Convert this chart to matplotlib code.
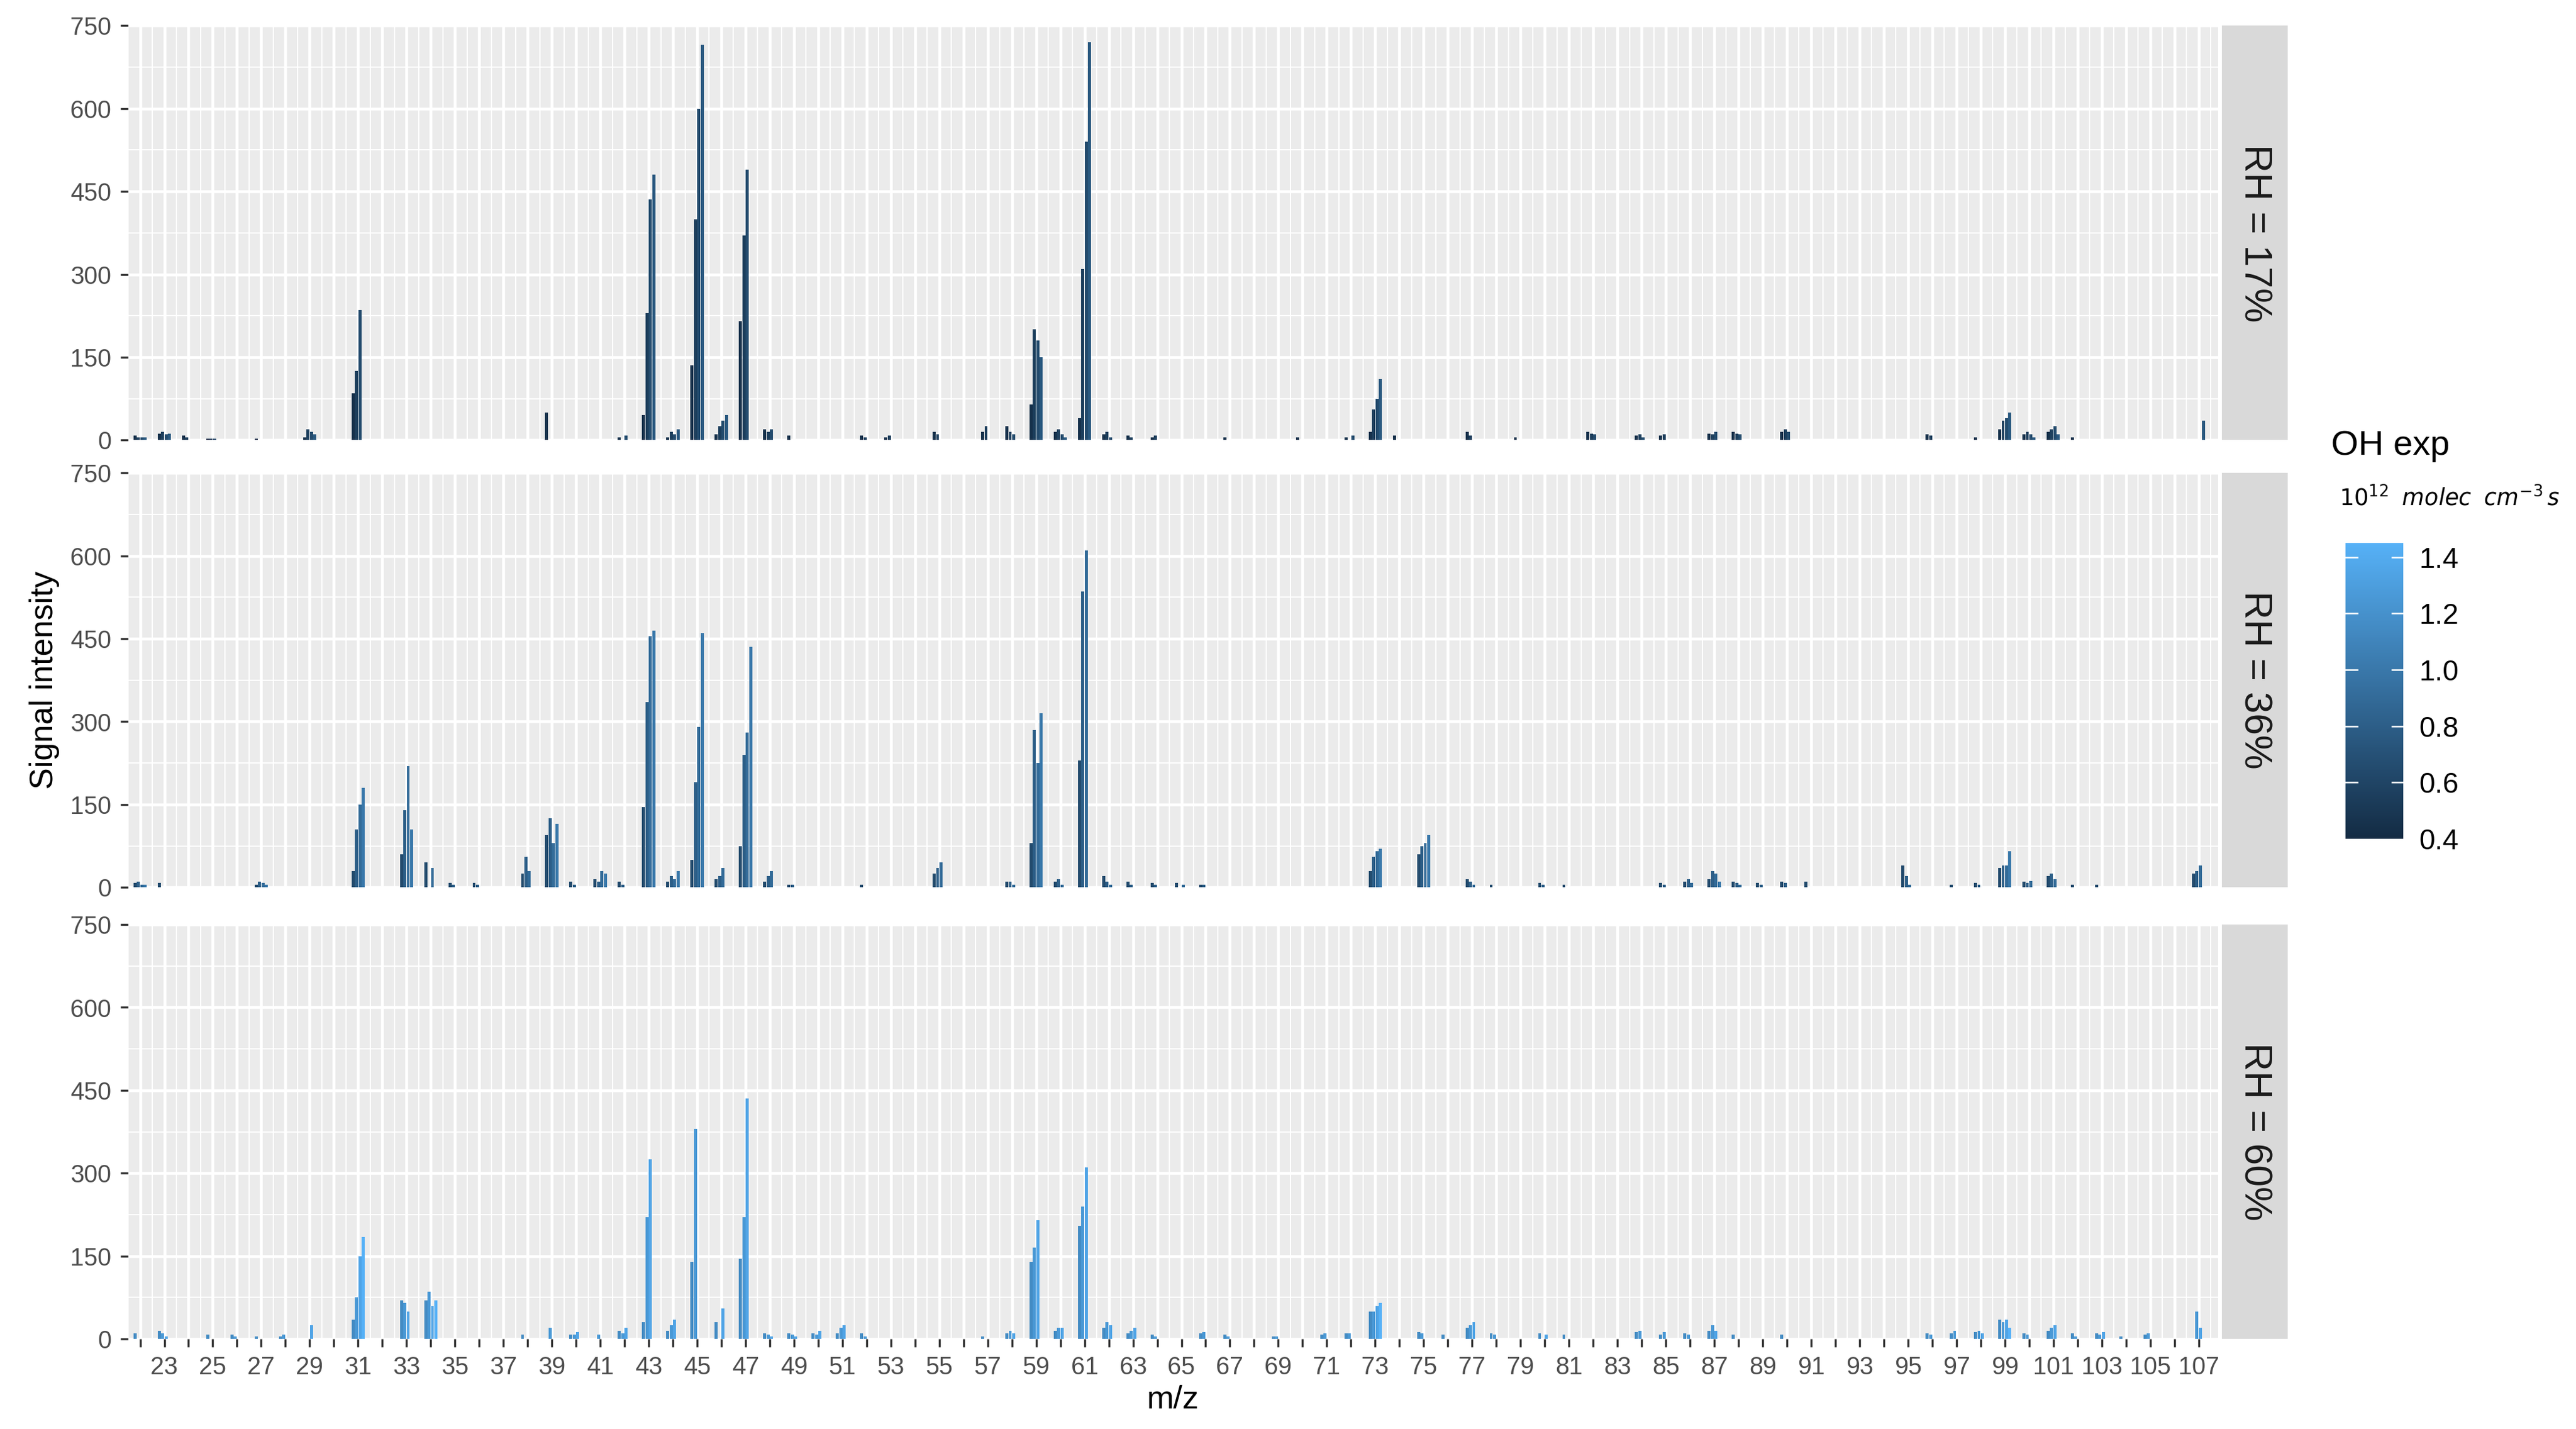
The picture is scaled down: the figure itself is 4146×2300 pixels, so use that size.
import numpy as np
import matplotlib.pyplot as plt
import matplotlib as mpl
from matplotlib.colors import LinearSegmentedColormap, Normalize

plt.rcParams['font.family'] = ['Liberation Sans', 'DejaVu Sans']

mz_range = list(range(22, 108))
panels = ["RH = 17%", "RH = 36%", "RH = 60%"]
# OH exposure of the 4 dodged bars per panel (1e12 molec cm-3 s)
oh_exp = [[0.45, 0.55, 0.65, 0.75],
          [0.65, 0.80, 0.90, 1.00],
          [1.15, 1.25, 1.35, 1.45]]

# signal per m/z, four exposures each
rh17 = {22: [8, 5, 5, 5], 23: [12, 15, 10, 12], 24: [8, 5, 0, 0], 25: [3, 3, 3, 0],
        27: [3, 0, 0, 0], 29: [5, 20, 15, 10], 31: [85, 125, 235, 0], 39: [50, 0, 0, 0],
        42: [5, 0, 8, 0], 43: [45, 230, 435, 480], 44: [5, 15, 10, 20],
        45: [135, 400, 600, 715], 46: [10, 25, 35, 45], 47: [215, 370, 490, 0],
        48: [20, 15, 20, 0], 49: [8, 0, 0, 0], 52: [8, 5, 0, 0], 53: [5, 8, 0, 0],
        55: [15, 10, 0, 0], 57: [15, 25, 0, 0], 58: [25, 15, 10, 0],
        59: [65, 200, 180, 150], 60: [15, 20, 10, 5], 61: [40, 310, 540, 720],
        62: [10, 15, 5, 0], 63: [8, 5, 0, 0], 64: [5, 8, 0, 0], 67: [5, 0, 0, 0],
        70: [5, 0, 0, 0], 72: [5, 0, 8, 0], 73: [15, 55, 75, 110], 74: [8, 0, 0, 0],
        77: [15, 8, 0, 0], 79: [5, 0, 0, 0], 82: [15, 12, 10, 0], 84: [8, 10, 5, 0],
        85: [8, 10, 0, 0], 87: [12, 10, 15, 0], 88: [15, 12, 10, 0], 90: [15, 20, 15, 0],
        96: [10, 8, 0, 0], 98: [5, 0, 0, 0], 99: [20, 35, 40, 50], 100: [10, 15, 10, 5],
        101: [15, 20, 25, 10], 102: [5, 0, 0, 0], 107: [0, 0, 0, 35]}
rh36 = {22: [8, 10, 5, 5], 23: [8, 0, 0, 0], 27: [5, 10, 8, 5], 31: [30, 105, 150, 180],
        33: [60, 140, 220, 105], 34: [45, 0, 35, 0], 35: [8, 5, 0, 0], 36: [8, 5, 0, 0],
        38: [25, 55, 30, 0], 39: [95, 125, 80, 115], 40: [10, 5, 0, 0],
        41: [15, 10, 30, 25], 42: [10, 5, 0, 0], 43: [145, 335, 455, 465],
        44: [10, 20, 15, 30], 45: [50, 190, 290, 460], 46: [15, 20, 35, 0],
        47: [75, 240, 280, 435], 48: [10, 20, 30, 0], 49: [5, 5, 0, 0], 52: [5, 0, 0, 0],
        55: [25, 35, 45, 0], 58: [10, 10, 5, 0], 59: [80, 285, 225, 315],
        60: [10, 15, 5, 0], 61: [230, 535, 610, 0], 62: [20, 10, 5, 0], 63: [10, 5, 0, 0],
        64: [8, 5, 0, 0], 65: [8, 0, 5, 0], 66: [5, 5, 0, 0], 73: [30, 55, 65, 70],
        75: [60, 75, 80, 95], 77: [15, 10, 5, 0], 78: [5, 0, 0, 0], 80: [8, 5, 0, 0],
        81: [5, 0, 0, 0], 85: [8, 5, 0, 0], 86: [10, 15, 8, 0], 87: [15, 30, 25, 10],
        88: [10, 8, 5, 0], 89: [8, 5, 0, 0], 90: [10, 8, 0, 0], 91: [10, 0, 0, 0],
        95: [40, 20, 5, 0], 97: [5, 0, 0, 0], 98: [8, 5, 0, 0], 99: [35, 40, 40, 65],
        100: [10, 8, 12, 0], 101: [20, 25, 15, 0], 102: [5, 0, 0, 0], 103: [5, 0, 0, 0],
        107: [25, 30, 40, 0]}
rh60 = {22: [10, 0, 0, 0], 23: [15, 10, 5, 0], 25: [8, 0, 0, 0], 26: [8, 5, 0, 0],
        27: [5, 0, 0, 0], 28: [5, 8, 0, 0], 29: [0, 0, 25, 0], 31: [35, 75, 150, 185],
        33: [70, 65, 50, 0], 34: [70, 85, 60, 70], 38: [8, 0, 0, 0], 39: [0, 20, 0, 0],
        40: [8, 8, 12, 0], 41: [0, 8, 0, 0], 42: [15, 10, 20, 0], 43: [30, 220, 325, 0],
        44: [15, 25, 35, 0], 45: [140, 380, 0, 0], 46: [30, 0, 55, 0],
        47: [145, 220, 435, 0], 48: [10, 8, 5, 0], 49: [10, 8, 5, 0], 50: [10, 8, 15, 0],
        51: [10, 20, 25, 0], 52: [10, 5, 0, 0], 57: [5, 0, 0, 0], 58: [10, 15, 10, 0],
        59: [140, 165, 215, 0], 60: [15, 20, 20, 0], 61: [205, 240, 310, 0],
        62: [20, 30, 25, 0], 63: [10, 15, 20, 0], 64: [8, 5, 0, 0], 66: [10, 12, 0, 0],
        67: [8, 5, 0, 0], 69: [5, 5, 0, 0], 71: [8, 10, 0, 0], 72: [10, 10, 0, 0],
        73: [50, 50, 60, 65], 75: [12, 10, 0, 0], 76: [8, 0, 0, 0], 77: [20, 25, 30, 0],
        78: [10, 8, 0, 0], 80: [10, 0, 8, 0], 81: [8, 0, 0, 0], 84: [12, 15, 0, 0],
        85: [8, 12, 0, 0], 86: [10, 8, 0, 0], 87: [15, 25, 15, 0], 88: [8, 0, 0, 0],
        90: [8, 0, 0, 0], 96: [10, 8, 0, 0], 97: [10, 15, 0, 0], 98: [12, 15, 10, 0],
        99: [35, 30, 35, 20], 100: [10, 8, 0, 0], 101: [15, 20, 25, 0],
        102: [10, 5, 0, 0], 103: [10, 8, 12, 0], 104: [5, 0, 0, 0], 105: [8, 10, 0, 0],
        107: [0, 50, 20, 0]}
panel_data = [rh17, rh36, rh60]

cmap = LinearSegmentedColormap.from_list("gg", ["#132B43", "#56B1F7"])
norm = Normalize(0.4, 1.45)

fig = plt.figure(figsize=(13.82, 7.667), dpi=300)
left, width = 0.0497, 0.8113
bottoms = [0.692, 0.379, 0.063]
height = 0.290
bw = 0.14

for i, (name, data) in enumerate(zip(panels, panel_data)):
    ax = fig.add_axes([left, bottoms[i], width, height])
    ax.set_facecolor("#EBEBEB")
    for mz, vals in data.items():
        for k, v in enumerate(vals):
            if v > 0:
                ax.bar(mz + (k - 1.5) * bw, v, width=bw * 0.9,
                       color=cmap(norm(oh_exp[i][k])), linewidth=0)
    ax.set_xlim(21.5, 107.8)
    ax.set_ylim(0, 750)
    ax.set_yticks([0, 150, 300, 450, 600, 750])
    ax.set_yticks([75, 225, 375, 525, 675], minor=True)
    ax.set_xticks(mz_range)
    ax.set_xticks(np.arange(21.5, 108, 1), minor=True)
    ax.grid(True, which="major", color="white", lw=1.1)
    ax.grid(True, which="minor", color="white", lw=0.5)
    ax.set_axisbelow(True)
    for s in ax.spines.values():
        s.set_visible(False)
    ax.tick_params(axis="both", which="major", length=3, color="#333333",
                   labelsize=9.5, labelcolor="#4D4D4D", width=0.8)
    ax.tick_params(which="minor", length=0)
    if i == 2:
        ax.set_xticklabels([str(m) if m % 2 == 1 else "" for m in mz_range])
        ax.set_xlabel("m/z", fontsize=12.5, labelpad=2)
    else:
        ax.set_xticklabels([])
        ax.tick_params(axis="x", length=0)
    if i == 1:
        ax.set_ylabel("Signal intensity", fontsize=12.5)
    # facet strip
    sx = fig.add_axes([0.8625, bottoms[i], 0.0255, height])
    sx.set_facecolor("#D9D9D9")
    sx.set_xticks([])
    sx.set_yticks([])
    for s in sx.spines.values():
        s.set_visible(False)
    sx.text(0.5, 0.5, name, rotation=-90, ha="center", va="center",
            fontsize=15, color="#1A1A1A", transform=sx.transAxes)

cax = fig.add_axes([0.9105, 0.413, 0.0225, 0.207])
cb = mpl.colorbar.ColorbarBase(cax, cmap=cmap, norm=norm, ticks=[0.4, 0.6, 0.8, 1.0, 1.2, 1.4])
cb.outline.set_visible(False)
cb.ax.tick_params(length=0, labelsize=11, pad=6)
cb.ax.set_yticklabels(["0.4", "0.6", "0.8", "1.0", "1.2", "1.4"])
for t in [0.6, 0.8, 1.0, 1.2, 1.4]:
    cax.plot([0, 0.2], [t, t], color="white", lw=0.6, transform=cax.get_yaxis_transform())
    cax.plot([0.8, 1.0], [t, t], color="white", lw=0.6, transform=cax.get_yaxis_transform())
fig.text(0.905, 0.688, "OH exp", fontsize=13.5, ha="left", va="center")
fig.text(0.908, 0.651, r"$10^{12}$  $\it{molec}$  $\it{cm}^{-3}\,\it{s}$", fontsize=8.8,
         ha="left", va="center")

fig.savefig("out.png", dpi=300)
